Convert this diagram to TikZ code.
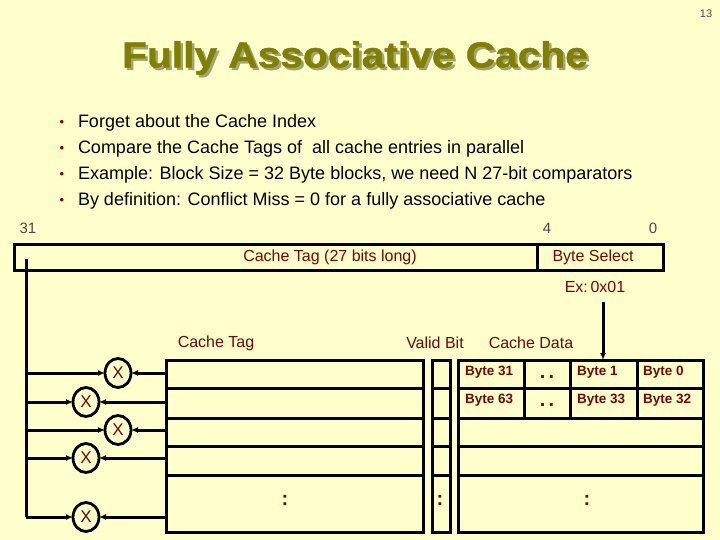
\documentclass[tikz,border=0pt]{standalone}
\usepackage{fontspec}
\setmainfont{Liberation Sans}
\newfontfamily\titlefont{Liberation Sans}[FakeStretch=1.13,FakeBold=1.2]
\usetikzlibrary{shapes.geometric,arrows.meta,positioning}
\definecolor{slidebg}{HTML}{FFFFCC}
\definecolor{titleolive}{HTML}{7F7F00}
\definecolor{titleshade}{HTML}{A3A37A}
\definecolor{labred}{HTML}{720808}
\definecolor{bitgray}{HTML}{4A4A4A}

\begin{document}
\begin{tikzpicture}[x=1pt, y=-1pt,
  every node/.style={inner sep=0pt, outer sep=0pt},
  box/.style={draw, line width=3pt},
  wire/.style={line width=3pt},
  arr/.style={wire, -{Latex[length=7pt,width=6pt]}},
  lbl/.style={text=labred, font=\fontsize{16}{18}\selectfont},
  byt/.style={text=labred, anchor=west, font=\bfseries\fontsize{13.5}{15}\selectfont},
  more/.style={text=labred, font=\bfseries\fontsize{20}{20}\selectfont},
  bitno/.style={text=bitgray, font=\fontsize{15}{17}\selectfont},
  cmp/.style={draw, ellipse, line width=2.8pt, minimum width=26pt, minimum height=29pt,
    fill=slidebg, text=labred, font=\fontsize{17}{18}\selectfont}]
\fill[slidebg] (0,0) rectangle (720,540);
\node[text=bitgray, font=\fontsize{11}{12}\selectfont] (pageno) at (706,14) {13};
% title with its shadow
\node[text=titleshade, font=\titlefont\bfseries\fontsize{36}{40}\selectfont] (titleshadow) at (357.5,60.5) {Fully Associative Cache};
\node[text=titleolive, font=\titlefont\bfseries\fontsize{36}{40}\selectfont] (title) at (355,58) {Fully Associative Cache};
% bullets
\foreach \t [count=\i] in {{Forget about the Cache Index},
  {Compare the Cache Tags of \ all cache entries in parallel},
  {Example: Block Size = 32 Byte blocks, we need N 27-bit comparators},
  {By definition: Conflict Miss = 0 for a fully associative cache}} {
  \node[anchor=west, font=\fontsize{18}{20}\selectfont] (item\i) at (78,{97+26*\i}) {\t};
  \node[text=labred, font=\fontsize{13}{13}\selectfont] (bul\i) at (62,{97+26*\i}) {•};
}
% address
\node[bitno] (b31) at (28,228) {31};
\node[bitno] (b4) at (547,228) {4};
\node[bitno] (b0) at (653,228) {0};
\node[box, anchor=north west, minimum width=523pt, minimum height=26pt] (tagfld) at (14,244) {};
\node[box, right=0pt of tagfld, minimum width=126pt, minimum height=26pt] (bytesel) {};
\node[lbl] (tagtxt) at (330,257) {Cache Tag (27 bits long)};
\node[lbl] (seltxt) at (593,257) {Byte Select};
\node[lbl] (exval) at (595,287) {Ex:\,0x01};
% cache arrays
\node[lbl] (tagcap) at (216,343) {Cache Tag};
\node[lbl] (validcap) at (435,343) {Valid Bit};
\node[lbl] (datacap) at (531,343) {Cache Data};
\node[box, anchor=north west, minimum width=257pt, minimum height=172pt] (tagmem) at (166,360) {};
\node[box, right=9pt of tagmem, minimum width=18pt, minimum height=172pt] (vmem) {};
\node[box, right=8pt of vmem, minimum width=245pt, minimum height=172pt] (dmem) {};
\foreach \y in {388,418,446,475} {
  \draw[wire] (tagmem.west |- 0,\y) -- (tagmem.east |- 0,\y);
  \draw[wire] (vmem.west |- 0,\y) -- (vmem.east |- 0,\y);
  \draw[wire] (dmem.west |- 0,\y) -- (dmem.east |- 0,\y);
}
\foreach \x in {524,570,637}
  \draw[wire] (\x,0 |- dmem.north) -- (\x,418);
\node[byt] (d31) at (465,372) {Byte 31};
\node[byt] (d1) at (577,372) {Byte 1};
\node[byt] (d0) at (643,372) {Byte 0};
\node[byt] (d63) at (465,400) {Byte 63};
\node[byt] (d33) at (577,400) {Byte 33};
\node[byt] (d32) at (643,400) {Byte 32};
\node[more] (dots1) at (547,377) {.\,.};
\node[more] (dots2) at (547,405) {.\,.};
\node[more] (tagmore) at (285,500) {:};
\node[more] (vmore) at (440,500) {:};
\node[more] (dmore) at (587,500) {:};
% comparators
\node[cmp] (cmp1) at (118,373) {X};
\node[cmp] (cmp2) at (86,402) {X};
\node[cmp] (cmp3) at (118,430) {X};
\node[cmp] (cmp4) at (86,458) {X};
\node[cmp] (cmp5) at (86,517) {X};
\coordinate (bustop) at (26,259);
\coordinate (busbot) at (26,517);
\draw[wire] (bustop) -- (busbot);
\foreach \i in {1,...,5} {
  \draw[arr] (bustop |- cmp\i) -- (cmp\i);
  \draw[arr] (tagmem.west |- cmp\i) -- (cmp\i);
}
\coordinate (selwire) at (603,302);
\draw[arr] (selwire) -- (selwire |- dmem.north);
\end{tikzpicture}
\end{document}
